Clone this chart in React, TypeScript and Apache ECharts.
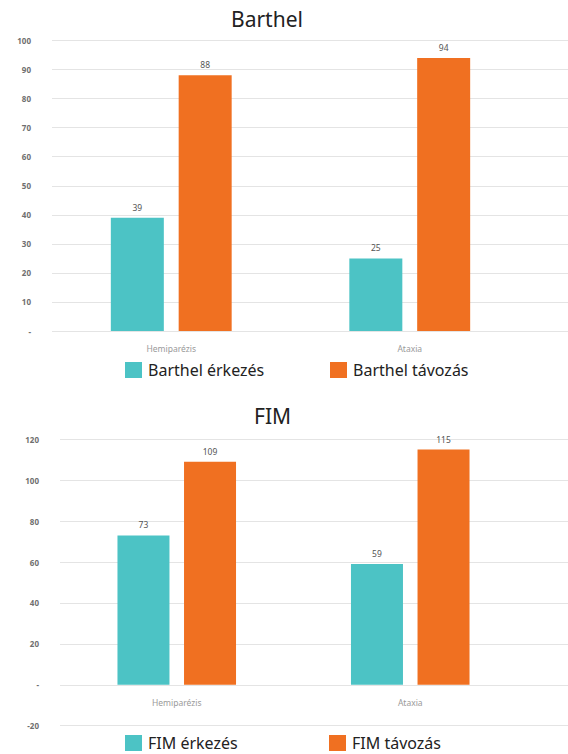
import React, { useEffect, useRef } from "react";
import * as echarts from "echarts";

const categories = ["Hemiparézis", "Ataxia"];
const barthelArrive = [39, 25];
const barthelLeave = [88, 94];
const fimArrive = [73, 59];
const fimLeave = [109, 115];

const barthelTicks = { min: 0, max: 100, interval: 10 };
const fimTicks = { min: -20, max: 120, interval: 20 };

const CYAN = "#4CC3C5";
const ORANGE = "#F07021";
const FONT = "Noto Sans";

export default function App() {
  const ref = useRef<HTMLDivElement>(null);
  useEffect(() => {
    const chart = echarts.init(ref.current!, null, { renderer: "svg" });
    const yLab = {
      color: "#6f6f6f",
      fontSize: 8,
      fontWeight: "bold" as const,
      fontFamily: FONT,
      margin: 21,
      formatter: (v: number) => (v === 0 ? "-" : String(v)),
    };
    const valLabel = {
      show: true,
      position: "top" as const,
      distance: 6,
      color: "#555",
      fontSize: 8.5,
      fontFamily: FONT,
    };
    const xLab = { color: "#9a9a9a", fontSize: 8.5, fontFamily: FONT, margin: 13 };
    const legendBase = (left: number, top: number, name: string) => ({
      left,
      top,
      itemWidth: 17,
      itemHeight: 16,
      itemGap: 0,
      icon: "rect",
      padding: 0,
      data: [name],
      textStyle: { color: "#222", fontSize: 16, fontFamily: FONT, padding: [0, 0, 0, 1] },
      selectedMode: false,
    });
    chart.setOption({
      animation: false,
      backgroundColor: "#fff",
      title: [
        { text: "Barthel", left: 231, top: 8, padding: 0, textStyle: { fontSize: 21, fontWeight: "normal", color: "#222", fontFamily: FONT } },
        { text: "FIM", left: 254, top: 405, padding: 0, textStyle: { fontSize: 21, fontWeight: "normal", color: "#222", fontFamily: FONT } },
      ],
      legend: [
        legendBase(125, 362, "Barthel érkezés"),
        legendBase(330, 362, "Barthel távozás"),
        legendBase(125, 735, "FIM érkezés"),
        legendBase(329, 735, "FIM távozás"),
      ],
      grid: [
        { left: 52, top: 40.5, width: 477, height: 290.5 },
        { left: 52, top: 40.5, right: 0, height: 290.5 },
        { left: 60, top: 439.3, width: 467, height: 286.4 },
        { left: 60, top: 439.3, right: 0, height: 286.4 },
      ],
      xAxis: [
        { type: "category", gridIndex: 0, data: categories, axisLine: { show: false }, axisTick: { show: false }, axisLabel: xLab },
        { type: "category", gridIndex: 1, data: categories, show: false },
        { type: "category", gridIndex: 2, data: categories, offset: -40.9, axisLine: { show: false, onZero: false }, axisTick: { show: false }, axisLabel: xLab },
        { type: "category", gridIndex: 3, data: categories, show: false },
      ],
      yAxis: [
        { type: "value", gridIndex: 0, ...barthelTicks, show: false, splitLine: { show: false } },
        { type: "value", gridIndex: 1, ...barthelTicks, axisLine: { show: false }, axisTick: { show: false }, axisLabel: yLab, splitLine: { lineStyle: { color: "#e4e4e4" } } },
        { type: "value", gridIndex: 2, ...fimTicks, show: false, splitLine: { show: false } },
        { type: "value", gridIndex: 3, ...fimTicks, axisLine: { show: false }, axisTick: { show: false }, axisLabel: yLab, splitLine: { lineStyle: { color: "#e4e4e4" } } },
      ],
      series: [
        { name: "Barthel érkezés", type: "bar", xAxisIndex: 0, yAxisIndex: 0, data: barthelArrive, barWidth: 53, barGap: "28%", itemStyle: { color: CYAN }, label: valLabel },
        { name: "Barthel távozás", type: "bar", xAxisIndex: 0, yAxisIndex: 0, data: barthelLeave, barWidth: 53, barGap: "28%", itemStyle: { color: ORANGE }, label: valLabel },
        { name: "FIM érkezés", type: "bar", xAxisIndex: 2, yAxisIndex: 2, data: fimArrive, barWidth: 52, barGap: "28%", itemStyle: { color: CYAN }, label: valLabel },
        { name: "FIM távozás", type: "bar", xAxisIndex: 2, yAxisIndex: 2, data: fimLeave, barWidth: 52, barGap: "28%", itemStyle: { color: ORANGE }, label: valLabel },
      ],
    });
    return () => chart.dispose();
  }, []);
  return <div ref={ref} style={{ position: "fixed", left: 0, top: 0, width: 568, height: 754 }} />;
}
